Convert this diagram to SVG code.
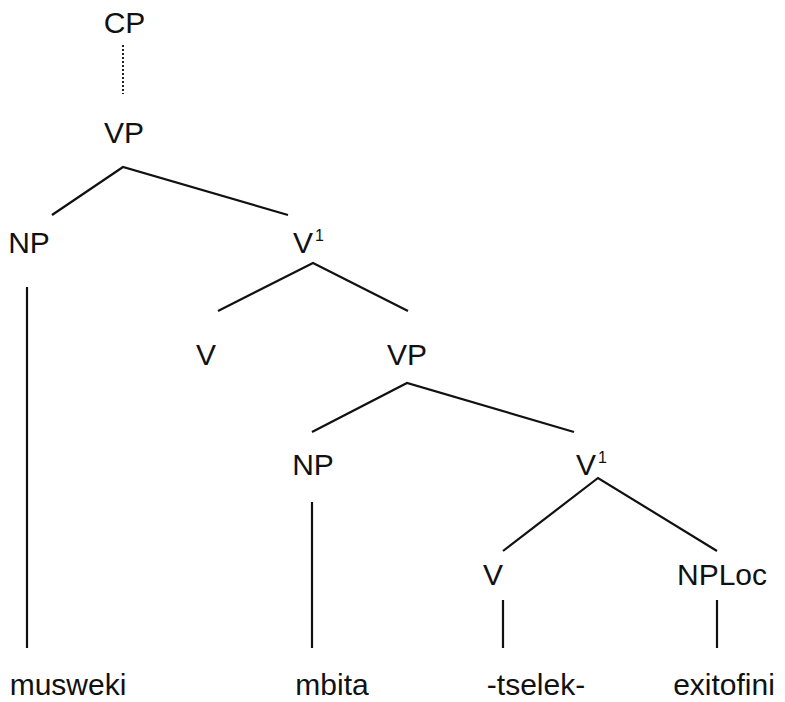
<svg xmlns="http://www.w3.org/2000/svg" width="785" height="702" viewBox="0 0 785 702">
<style>
.l{font-family:"Liberation Sans",Arial,sans-serif;font-size:30px;fill:#111}
.m{text-anchor:middle}
.s{font-family:"Liberation Sans",Arial,sans-serif;font-size:16px;fill:#111}
.e{stroke:#111;stroke-width:2.2;fill:none;stroke-linecap:butt}
.d{stroke:#222;stroke-width:2;stroke-dasharray:2 2;fill:none}
</style>
<rect width="785" height="702" fill="#fff"/>
<g id="connectors">
<line class="d" x1="123" y1="45" x2="123" y2="94"/>
<polyline class="e" points="52,215 123,167 288,215"/>
<line class="e" x1="27" y1="287" x2="27" y2="648"/>
<polyline class="e" points="218,311 313,263 408,311"/>
<polyline class="e" points="312,432 407,383 574,432"/>
<line class="e" x1="312" y1="502" x2="312" y2="648"/>
<polyline class="e" points="503,551 598,478 717,551"/>
<line class="e" x1="503" y1="600" x2="503" y2="648"/>
<line class="e" x1="717" y1="600" x2="717" y2="648"/>
</g>
<g id="cp"><text class="l m" x="124.5" y="33">CP</text></g>
<g id="vp1"><text class="l m" x="124" y="143">VP</text></g>
<g id="np1"><text class="l m" x="29" y="253">NP</text></g>
<g id="vbar1"><text class="l" x="293" y="253">V</text><text class="s" x="315" y="241">1</text></g>
<g id="v1"><text class="l m" x="206" y="365">V</text></g>
<g id="vp2"><text class="l m" x="407" y="365">VP</text></g>
<g id="np2"><text class="l m" x="313" y="475">NP</text></g>
<g id="vbar2"><text class="l" x="576" y="475">V</text><text class="s" x="598" y="463">1</text></g>
<g id="v2"><text class="l m" x="493" y="585">V</text></g>
<g id="nploc"><text class="l m" x="722" y="585">NPLoc</text></g>
<g id="musweki"><text class="l m" x="68" y="695">musweki</text></g>
<g id="mbita"><text class="l m" x="332" y="695">mbita</text></g>
<g id="tselek"><text class="l m" x="536" y="695">-tselek-</text></g>
<g id="exitofini"><text class="l m" x="724" y="695">exitofini</text></g>
</svg>
